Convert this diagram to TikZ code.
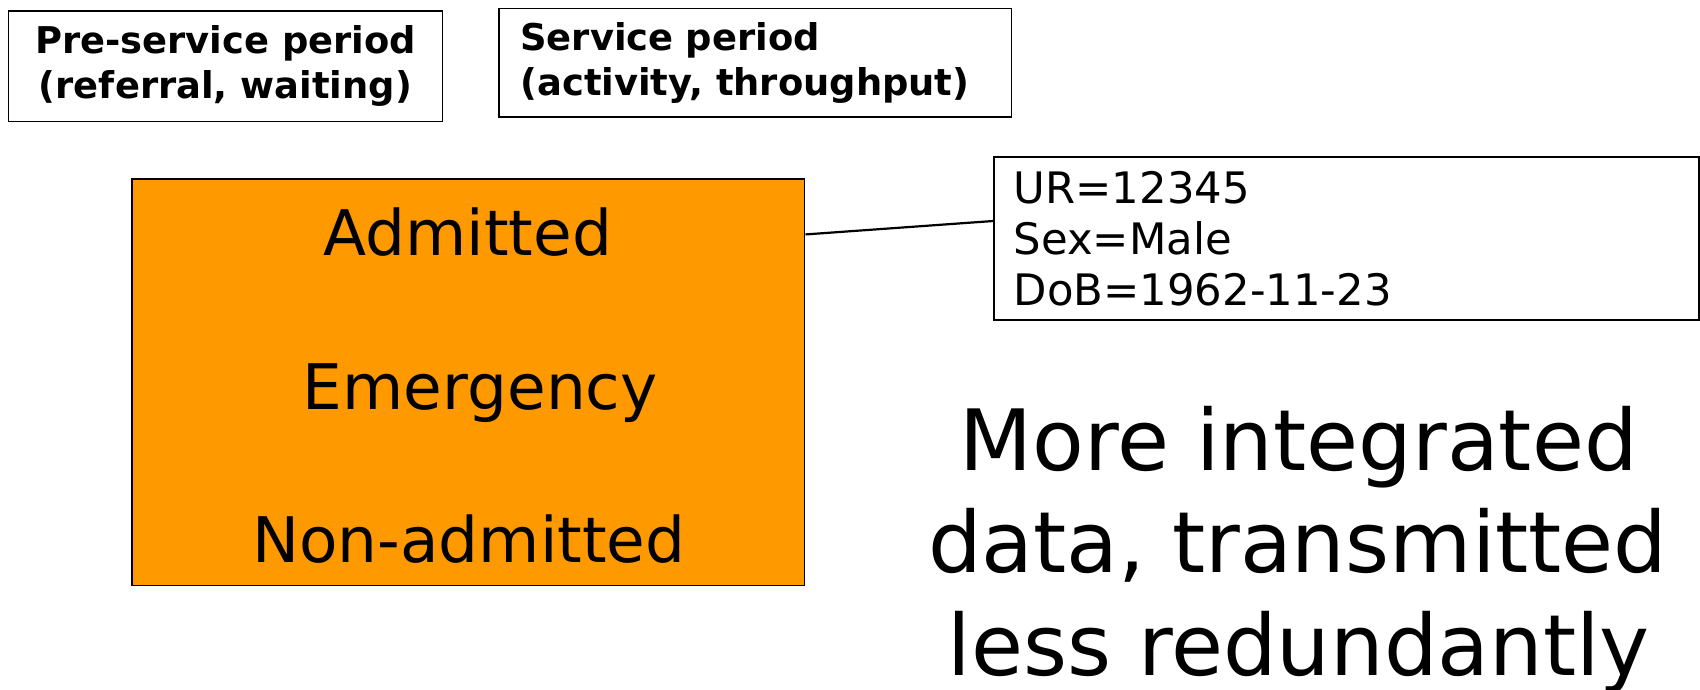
\documentclass[tikz,border=0pt]{standalone}
\usepackage{fontspec}
\setmainfont{DejaVu Sans}
\definecolor{orangebox}{HTML}{FF9900}
\begin{document}
\begin{tikzpicture}[x=1pt,y=-1pt,scale=1.08418,
  every node/.append style={transform shape},
  frame/.style={draw=black, line width=1.6pt, rectangle, inner sep=0pt},
  hdr/.style={font=\fontsize{34}{41}\selectfont\bfseries},
  cat/.style={font=\fontsize{58}{70}\selectfont, anchor=base, inner sep=0pt},
  big/.style={font=\fontsize{78}{94}\selectfont, anchor=base, inner sep=0pt},
  link/.style={draw=black, line width=2.2pt}]
\useasboundingbox (0,0) rectangle (1568,636.42);
\node[frame, hdr, minimum width=400pt, minimum height=102pt, align=center] (pre) at (208,61)
  {Pre-service period\\(referral, waiting)};
\node[frame, hdr, minimum width=473pt, minimum height=100pt, text width=433pt, inner xsep=20pt, align=left] (svc) at (696.5,58)
  {Service period\\(activity, throughput)};
\node[frame, fill=orangebox, minimum width=620pt, minimum height=375pt] (org) at (432,352.5) {};
\node[cat] (adm) at (431.5,236) {Admitted};
\node[cat] (emg) at (443,378) {Emergency};
\node[cat] (non) at (432.5,519) {Non-admitted};
\node[frame, font=\fontsize{40}{47}\selectfont, minimum width=650pt, minimum height=150pt, text width=614pt, inner xsep=18pt, align=left] (ur) at (1242,220)
  {UR=12345\\Sex=Male\\DoB=1962-11-23};
\draw[link] ([yshift=-52pt]org.north east) -- ([yshift=-59.6pt]ur.north west);
\node[big] (l1) at (1198,434) {More integrated};
\node[big] (l2) at (1197,528.5) {data, transmitted};
\node[big] (l3) at (1198,623) {less redundantly};
\end{tikzpicture}
\end{document}
